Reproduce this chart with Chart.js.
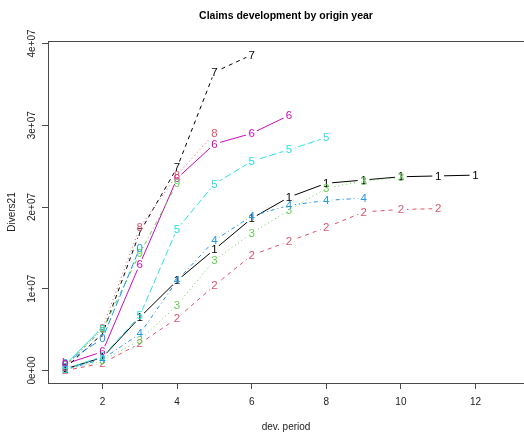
<!DOCTYPE html>
<html>
<head>
<meta charset="utf-8">
<script src="https://cdn.jsdelivr.net/npm/chart.js@4.4.1/dist/chart.umd.min.js"></script>
<style>
	html, body { margin: 0; padding: 0; background: #fff; overflow: hidden; }
	canvas { display: block; }
</style>
</head>
<body>
<canvas id="devChart" width="524" height="434"></canvas>
<script>
/****************************
 ****	data
 ****************************/

const	DEV_PERIODS	= [ 1, 2, 3, 4, 5, 6, 7, 8, 9, 10, 11, 12 ];
const	ORIGIN_PCH	= [ '1', '2', '3', '4', '5', '6', '7', '8', '9', '0', 'a', 'b' ];

//	cumulative claims per origin year, one value per dev. period
const	origin1		= [ 0.02e7, 0.16e7, 0.65e7, 1.10e7, 1.48e7, 1.86e7, 2.12e7, 2.29e7, 2.33e7, 2.37e7, 2.38e7, 2.39e7 ];
const	origin2		= [ 0.00e7, 0.09e7, 0.33e7, 0.64e7, 1.04e7, 1.41e7, 1.58e7, 1.75e7, 1.94e7, 1.97e7, 1.98e7 ];
const	origin3		= [ 0.01e7, 0.12e7, 0.37e7, 0.80e7, 1.35e7, 1.68e7, 1.96e7, 2.23e7, 2.32e7, 2.36e7 ];
const	origin4		= [ 0.01e7, 0.14e7, 0.45e7, 1.10e7, 1.59e7, 1.89e7, 2.02e7, 2.08e7, 2.11e7 ];
const	origin5		= [ 0.02e7, 0.17e7, 0.67e7, 1.73e7, 2.28e7, 2.56e7, 2.70e7, 2.85e7 ];
const	origin6		= [ 0.08e7, 0.23e7, 1.30e7, 2.35e7, 2.77e7, 2.90e7, 3.12e7 ];
const	origin7		= [ 0.03e7, 0.45e7, 1.69e7, 2.48e7, 3.65e7, 3.86e7 ];
const	origin8		= [ 0.04e7, 0.52e7, 1.75e7, 2.39e7, 2.90e7 ];
const	origin9		= [ 0.06e7, 0.50e7, 1.43e7, 2.29e7 ];
const	origin10	= [ 0.09e7, 0.39e7, 1.50e7 ];
const	origin11	= [ 0.07e7, 0.53e7 ];
const	origin12	= [ 0.10e7 ];

const	ORIGINS		= [ origin1, origin2, origin3, origin4, origin5, origin6,
				origin7, origin8, origin9, origin10, origin11, origin12 ];

const	X_TICKS		= [ 2, 4, 6, 8, 10, 12 ];
const	Y_TICKS		= [ 0, 1e7, 2e7, 3e7, 4e7 ];
const	Y_TICK_LABELS	= [ '0e+00', '1e+07', '2e+07', '3e+07', '4e+07' ];

/****************************
 ****	styles (R palette, lty 1:5)
 ****************************/

const	PALETTE	= [ '#000000', '#DF536B', '#61D04F', '#2297E6', '#28E2E5', '#CD0BBC' ];
const	LTY	= [ [], [ 4, 4 ], [ 1, 3 ], [ 1, 3, 4, 3 ], [ 7, 3 ] ];
const	GAP	= 6;
const	FONT	= '"Liberation Sans", Arial, sans-serif';
const	AXIS_COL	= '#4a4a4a';

/******** point labels + line gaps (matplot type="b") ********/

const	pointLabels	= {
	id: 'pointLabels',

	beforeDatasetDraw: function ( chart, args ) {
		let	ctx	= chart.ctx;
		ctx.save();
		ctx.beginPath();
		ctx.rect( 0, 0, chart.width, chart.height );
		args.meta.data.forEach( pt => {
			ctx.moveTo( pt.x + GAP, pt.y );
			ctx.arc( pt.x, pt.y, GAP, 0, Math.PI * 2 );
		});
		ctx.clip( 'evenodd' );
	},

	afterDatasetDraw: function ( chart, args ) {
		let	ctx	= chart.ctx;
		let	ds	= chart.data.datasets[ args.index ];
		ctx.restore();

		ctx.save();
		ctx.font		= '11.5px ' + FONT;
		ctx.textAlign		= 'center';
		ctx.textBaseline	= 'middle';
		ctx.fillStyle		= ds.borderColor;
		args.meta.data.forEach( pt => {
			ctx.fillText( ds.pch, pt.x, pt.y + 0.5 );
		});
		ctx.restore();
	}
};

/****************************
 ****	chart
 ****************************/

function buildDatasets() {
	return ORIGINS.map( ( vals, i ) => {
		return {
			label: 'origin ' + ( i + 1 ),
			pch: ORIGIN_PCH[ i ],
			data: vals.map( ( v, k ) => ({ x: DEV_PERIODS[ k ], y: v }) ),
			borderColor: PALETTE[ i % PALETTE.length ],
			borderDash: LTY[ i % LTY.length ],
			borderWidth: 1,
			pointRadius: 0,
			pointHoverRadius: 0,
			tension: 0,
			fill: false,
			order: ORIGINS.length - i,
		};
	});
}

window.addEventListener( 'load', function () {
	let	ctx	= document.getElementById( 'devChart' );

	new Chart( ctx, {
		type: 'line',
		data: { datasets: buildDatasets() },
		plugins: [ pointLabels ],
		options: {
			responsive: false,
			animation: false,
			devicePixelRatio: 1,
			layout: { padding: 0 },
			events: [],
			plugins: {
				legend: { display: false },
				title: { display: false },
				tooltip: { enabled: false },
			},
			scales: {
				x: {
					type: 'linear',
					position: 'bottom',
					min: 0.54,
					max: 13.3,
					afterBuildTicks: scale => { scale.ticks = X_TICKS.map( v => ({ value: v }) ); },
					afterFit: scale => { scale.height = 51; },
					ticks: {
						autoSkip: false,
						maxRotation: 0,
						padding: 7,
						color: '#222',
						font: { family: FONT, size: 10 },
						callback: v => String( v ),
					},
					grid: { drawOnChartArea: false, tickLength: 6, color: AXIS_COL },
					border: { display: true, color: AXIS_COL, width: 1 },
					title: {
						display: true,
						text: 'dev. period',
						color: '#222',
						font: { family: FONT, size: 10 },
						padding: { top: 0, bottom: 1 },
					},
				},
				x2: {
					type: 'linear',
					position: 'top',
					min: 0,
					max: 1,
					afterFit: scale => { scale.height = 41; },
					ticks: { display: false },
					grid: { drawOnChartArea: false, drawTicks: false, color: AXIS_COL },
					border: { display: true, color: AXIS_COL, width: 1 },
					title: {
						display: true,
						text: 'Claims development by origin year',
						color: '#000',
						font: { family: FONT, size: 10.5, weight: 'bold' },
						padding: { top: 10, bottom: 0 },
					},
				},
				y: {
					type: 'linear',
					position: 'left',
					min: -1.52e6,
					max: 4.03e7,
					afterBuildTicks: scale => { scale.ticks = Y_TICKS.map( v => ({ value: v }) ); },
					afterFit: scale => { scale.width = 48; },
					ticks: {
						autoSkip: false,
						minRotation: 90,
						maxRotation: 90,
						crossAlign: 'center',
						padding: -4.5,
						color: '#222',
						font: { family: FONT, size: 10 },
						callback: ( v, idx ) => Y_TICK_LABELS[ idx ],
					},
					grid: { drawOnChartArea: false, tickLength: 6, color: AXIS_COL },
					border: { display: true, color: AXIS_COL, width: 1 },
					title: {
						display: true,
						text: 'Divers21',
						color: '#222',
						font: { family: FONT, size: 10 },
						padding: { top: 6, bottom: 0 },
					},
				},
			},
		},
	});
});
</script>
</body>
</html>
